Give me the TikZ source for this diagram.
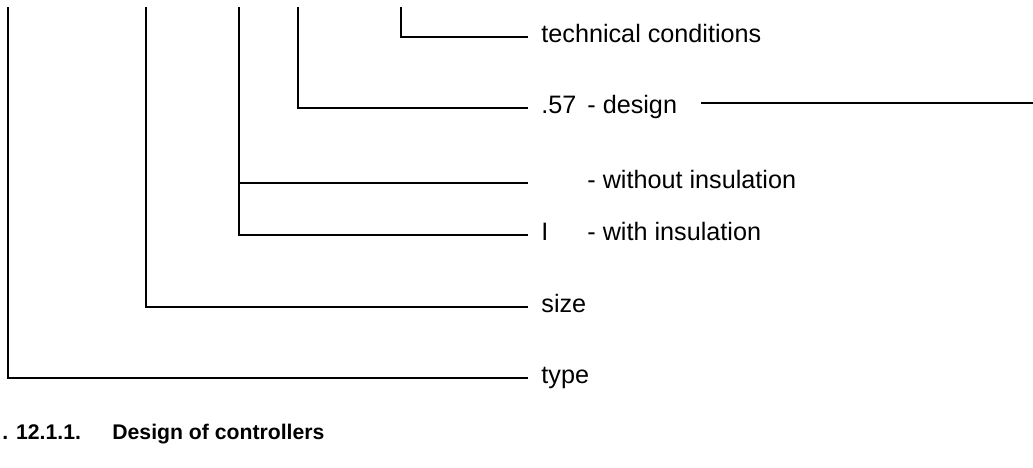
\documentclass[tikz,border=0pt]{standalone}
\usepackage{fontspec}
\setmainfont{Liberation Sans}
\usepackage{tikz}

\begin{document}
\begin{tikzpicture}[
    x=0.5pt, y=-0.5pt,
    lbl/.style={anchor=west, inner sep=0pt, text height=9pt, text depth=4pt, font=\fontsize{12.6}{15}\selectfont},
    capt/.style={anchor=base west, inner sep=0pt, font=\fontsize{10.6}{13}\selectfont\bfseries},
    line/.style={line width=1.25pt, shorten >=6.5pt}
]
\useasboundingbox (0,0) rectangle (1033,467);

% labels
\node[lbl] (tc) at (541,37) {technical conditions};
\node[lbl] (code) at (541,108) {.57};
\node[lbl] (design) at (587,108) {- design};
\node[lbl] (wo) at (587,183) {- without insulation};
\node[lbl] (ins) at (541,235) {I};
\node[lbl] (wi) at (587,235) {- with insulation};
\node[lbl] (size) at (541,307) {size};
\node[lbl] (type) at (541,378) {type};

% tops of the brackets
\coordinate (ttype) at (8,7);
\coordinate (tsize) at (146,7);
\coordinate (tins) at (239,7);
\coordinate (tdes) at (298,7);
\coordinate (ttc) at (401,7);
\coordinate (dend) at (1033,103);

\draw[line] (ttype) |- (type);
\draw[line] (tsize) |- (size);
\draw[line] (tins) |- (ins);
\draw[line] (tins |- wo) -- (wo -| ins.west);
\draw[line] (tdes) |- (code);
\draw[line] (ttc) |- (tc);
\draw[line width=1.25pt] ([shift={(24,-5)}]design.east) -- (dend);

% caption
\node[capt] (fig) at (2,439) {. 12.1.1.};
\node[capt] (title) at (112,439) {Design of controllers};
\end{tikzpicture}
\end{document}
